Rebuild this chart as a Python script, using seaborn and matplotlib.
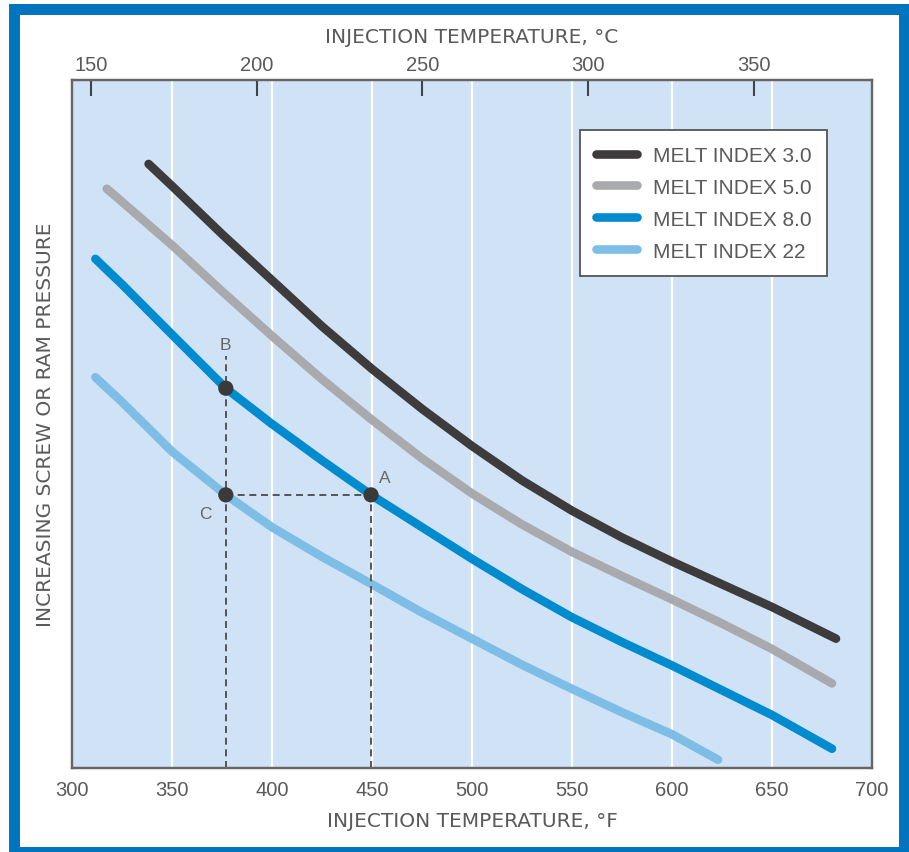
import numpy as np
import pandas as pd
import matplotlib
matplotlib.use('Agg')
import matplotlib.pyplot as plt
import matplotlib.patches as patches
import seaborn as sns

# curves (x in deg F, y = relative pressure 0-100)
mi30_x = [338.3, 350, 375, 400, 425, 450, 475, 500, 525, 550, 575, 600, 625, 650, 682]
mi30_y = [87.8, 84.6, 77.6, 70.9, 64.2, 58.0, 52.2, 46.8, 41.8, 37.4, 33.5, 30.0, 26.7, 23.4, 18.8]
mi50_x = [317.4, 325, 350, 375, 400, 425, 450, 475, 500, 525, 550, 575, 600, 625, 650, 680]
mi50_y = [84.2, 82.3, 76.0, 69.3, 62.8, 56.5, 50.6, 45.0, 39.9, 35.4, 31.4, 27.9, 24.5, 21.0, 17.3, 12.3]
mi80_x = [311.7, 325, 350, 376.9, 400, 425, 449.5, 475, 500, 525, 550, 575, 600, 625, 650, 680]
mi80_y = [74.0, 70.3, 63.0, 55.2, 50.0, 44.7, 39.7, 35.0, 30.4, 26.0, 21.9, 18.3, 14.9, 11.3, 7.7, 2.8]
mi22_x = [311.7, 325, 350, 376.9, 400, 425, 450, 475, 500, 525, 550, 575, 600, 623]
mi22_y = [56.8, 53.2, 46.0, 39.7, 35.0, 30.7, 26.7, 22.6, 18.8, 15.0, 11.5, 8.1, 4.9, 1.2]

labels = ['MELT INDEX 3.0', 'MELT INDEX 5.0', 'MELT INDEX 8.0', 'MELT INDEX 22']
colors = ['#3d3b3c', '#a8aaad', '#008bcf', '#7ebde6']

# example points
pt_names = ['A', 'B', 'C']
pt_x = [449.5, 376.9, 376.9]
pt_y = [39.7, 55.2, 39.7]

f_ticks = [300, 350, 400, 450, 500, 550, 600, 650, 700]
c_ticks = [150, 200, 250, 300, 350]

txt = '#5a5a5a'
sns.set_theme(style='darkgrid', rc={'axes.facecolor': '#cfe2f6',
                                    'grid.color': 'white',
                                    'grid.linewidth': 1.6,
                                    'axes.edgecolor': '#666666',
                                    'axes.linewidth': 1.6})
plt.rcParams['font.family'] = ['Liberation Sans', 'DejaVu Sans']
narrow = ['Liberation Sans Narrow', 'DejaVu Sans']

fig = plt.figure(figsize=(9.09, 8.53), dpi=100)
ax = fig.add_axes([72 / 909, 1 - 769 / 853, 800 / 909, 688 / 853])

series = [(mi30_x, mi30_y), (mi50_x, mi50_y), (mi80_x, mi80_y), (mi22_x, mi22_y)]
for (xs, ys), lab, col in zip(series, labels, colors):
    sns.lineplot(x=xs, y=ys, color=col, label=lab, lw=6.2, sort=False,
                 solid_capstyle='round', solid_joinstyle='round', ax=ax, zorder=3)

# dashed guide lines
dash = dict(color='#555555', lw=1.4, ls=(0, (3.6, 2.4)), zorder=4)
ax.plot([pt_x[1], pt_x[1]], [0, 59.9], **dash)
ax.plot([pt_x[2], pt_x[0]], [pt_y[2], pt_y[0]], **dash)
ax.plot([pt_x[0], pt_x[0]], [0, pt_y[0]], **dash)
sns.scatterplot(x=pt_x, y=pt_y, color='#3a3a3a', s=120, edgecolor='none',
                zorder=5, ax=ax, legend=False)
ax.text(pt_x[0] + 7, pt_y[0] + 2.5, 'A', color='#666666', fontsize=12.5,
        ha='center', va='center')
ax.text(pt_x[1], 61.5, 'B', color='#666666', fontsize=12.5, ha='center', va='center')
ax.text(pt_x[2] - 10, pt_y[2] - 2.7, 'C', color='#666666', fontsize=12.5,
        ha='center', va='center')

ax.set_xlim(300, 700)
ax.set_ylim(0, 100)
ax.set_xticks(f_ticks)
ax.set_yticks([])
ax.grid(axis='y', visible=False)
ax.tick_params(axis='x', length=0, pad=9, labelsize=14.5, labelcolor=txt)
ax.set_xlabel('INJECTION TEMPERATURE, °F', fontsize=14.5, color=txt,
              labelpad=8, family=narrow)
ax.set_ylabel('INCREASING SCREW OR RAM PRESSURE', fontsize=14.5, color=txt,
              labelpad=12, family=narrow)

# top celsius axis (scale as printed on the original)
def f2c(f):
    return 150 + (np.asarray(f) - 309.5) / 1.6575

ax2 = ax.twiny()
ax2.set_xlim(f2c(300), f2c(700))
ax2.set_xticks(c_ticks)
ax2.grid(False)
ax2.tick_params(axis='x', direction='in', length=11.5, width=1.5, color='#444444',
                pad=4, labelsize=14.5, labelcolor=txt)
ax2.set_xlabel('INJECTION TEMPERATURE, °C', fontsize=14.5, color=txt,
               labelpad=10, family=narrow)

leg = ax.legend(loc='upper right', bbox_to_anchor=(0.944, 0.927), borderaxespad=0,
                fontsize=15, handlelength=2.0, handletextpad=0.75,
                labelspacing=0.62, borderpad=0.75, fancybox=False, framealpha=1,
                edgecolor='#555555', facecolor='white')
leg.get_frame().set_linewidth(1.3)
for t in leg.get_texts():
    t.set_color(txt)

# blue frame around the figure
frame = patches.Rectangle((13.5 / 909, 0.5 / 853), 890 / 909, 843 / 853,
                          transform=fig.transFigure, fill=False,
                          edgecolor='#0074bf', lw=7.9)
fig.patches.append(frame)

fig.savefig('out.png', dpi=100, facecolor='white')
